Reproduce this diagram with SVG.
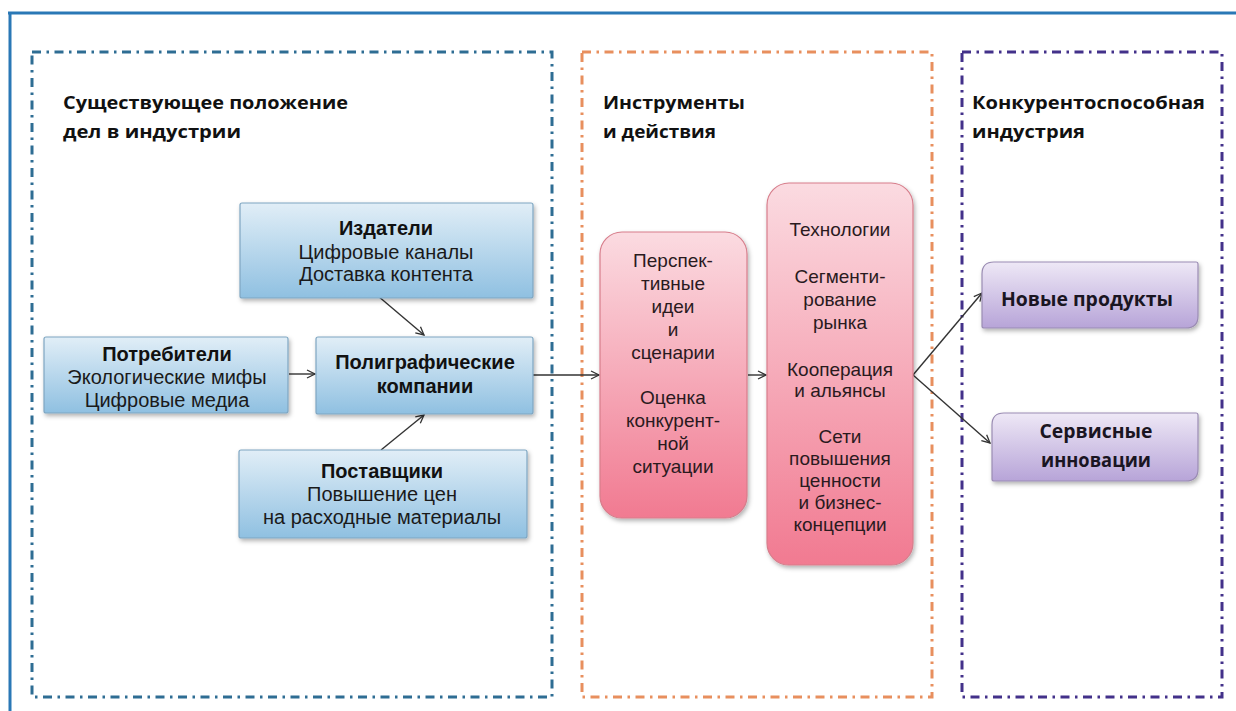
<svg xmlns="http://www.w3.org/2000/svg" width="1236" height="711" viewBox="0 0 1236 711">
  <style>
    .title { font-family: "Open Sans", "Liberation Sans", sans-serif; font-weight: 700; font-size: 18px; fill: #111; }
    .bt { font-family: "Liberation Sans", Arial, sans-serif; font-size: 20px; fill: #1a1a1a; text-anchor: middle; }
    .bb { font-family: "Liberation Sans", Arial, sans-serif; font-size: 20px; font-weight: 700; fill: #111; text-anchor: middle; }
    .pt { font-family: "Liberation Sans", Arial, sans-serif; font-size: 19px; fill: #2a1a1e; text-anchor: middle; }
    .vt { font-family: "Open Sans", "Liberation Sans", sans-serif; font-size: 19px; font-weight: 700; fill: #1a1522; text-anchor: middle; }
    .panel { fill: none; stroke-width: 3; stroke-dasharray: 9 5.5 2.5 5.5; }
    .bluebox { fill: url(#gBlue); stroke: #7fa6c2; stroke-width: 1.2; filter: url(#sh); }
    .pinkbox { fill: url(#gPink); stroke: #d77d8b; stroke-width: 1.2; filter: url(#sh); }
    .violetbox { fill: url(#gViolet); stroke: #9a8cb3; stroke-width: 1.2; filter: url(#sh); }
    .conn { stroke: #333; stroke-width: 1.4; fill: none; marker-end: url(#arr); }
  </style>
  <defs>
    <linearGradient id="gBlue" x1="0" y1="0" x2="0" y2="1">
      <stop offset="0" stop-color="#e1eef7"/>
      <stop offset="1" stop-color="#8fc0e1"/>
    </linearGradient>
    <linearGradient id="gPink" x1="0" y1="0" x2="0" y2="1">
      <stop offset="0" stop-color="#fbdbe1"/>
      <stop offset="1" stop-color="#f17a91"/>
    </linearGradient>
    <linearGradient id="gViolet" x1="0" y1="0" x2="0" y2="1">
      <stop offset="0" stop-color="#eee8f6"/>
      <stop offset="1" stop-color="#b7a4d8"/>
    </linearGradient>
    <filter id="sh" x="-10%" y="-10%" width="125%" height="130%">
      <feDropShadow dx="1.5" dy="2.5" stdDeviation="2" flood-color="#000" flood-opacity="0.3"/>
    </filter>
    <marker id="arr" markerWidth="12" markerHeight="12" refX="9" refY="5" orient="auto" markerUnits="userSpaceOnUse">
      <path d="M1,1 L9,5 L1,9" fill="none" stroke="#333" stroke-width="1.3"/>
    </marker>
  </defs>

  <rect x="0" y="0" width="1236" height="711" fill="#ffffff"/>

  <!-- outer frame -->
  <g id="frame">
    <line x1="8" y1="13" x2="1236" y2="13" stroke="#2a78b6" stroke-width="3"/>
    <line x1="10" y1="12" x2="10" y2="711" stroke="#2a78b6" stroke-width="3"/>
  </g>

  <!-- panels -->
  <g id="panel-current">
    <rect class="panel" x="32" y="52" width="520" height="645" stroke="#2e6d93"/>
    <text class="title" x="63" y="109" textLength="285" lengthAdjust="spacingAndGlyphs">Существующее положение</text>
    <text class="title" x="63" y="138" textLength="178" lengthAdjust="spacingAndGlyphs">дел в индустрии</text>
  </g>
  <g id="panel-tools">
    <rect class="panel" x="582" y="52" width="350" height="645" stroke="#e88f5e"/>
    <text class="title" x="603" y="109" textLength="142" lengthAdjust="spacingAndGlyphs">Инструменты</text>
    <text class="title" x="603" y="138" textLength="113" lengthAdjust="spacingAndGlyphs">и действия</text>
  </g>
  <g id="panel-competitive">
    <rect class="panel" x="962" y="52" width="260" height="645" stroke="#43318a"/>
    <text class="title" x="972" y="109" textLength="233" lengthAdjust="spacingAndGlyphs">Конкурентоспособная</text>
    <text class="title" x="972" y="138" textLength="113" lengthAdjust="spacingAndGlyphs">индустрия</text>
  </g>

  <!-- connectors -->
  <g id="connectors">
    <line class="conn" x1="378" y1="296" x2="424" y2="335"/>
    <line class="conn" x1="289" y1="374" x2="315" y2="374"/>
    <line class="conn" x1="381" y1="450" x2="424" y2="415"/>
    <line class="conn" x1="533" y1="375" x2="599" y2="375"/>
    <line class="conn" x1="748" y1="375" x2="766" y2="375"/>
    <line class="conn" x1="913" y1="375" x2="982" y2="293"/>
    <line class="conn" x1="913" y1="375" x2="990" y2="443"/>
  </g>

  <!-- blue nodes -->
  <g id="node-publishers">
    <rect class="bluebox" x="240" y="203" width="293" height="95" rx="2"/>
    <text class="bb" x="386" y="235">Издатели</text>
    <text class="bt" x="386" y="259">Цифровые каналы</text>
    <text class="bt" x="386" y="281">Доставка контента</text>
  </g>
  <g id="node-consumers">
    <rect class="bluebox" x="44" y="337" width="244" height="76" rx="2"/>
    <text class="bb" x="167" y="361">Потребители</text>
    <text class="bt" x="167" y="384">Экологические мифы</text>
    <text class="bt" x="167" y="407">Цифровые медиа</text>
  </g>
  <g id="node-printing">
    <rect class="bluebox" x="316" y="337" width="217" height="77" rx="2"/>
    <text class="bb" x="425" y="369">Полиграфические</text>
    <text class="bb" x="425" y="393">компании</text>
  </g>
  <g id="node-suppliers">
    <rect class="bluebox" x="239" y="450" width="288" height="88" rx="2"/>
    <text class="bb" x="382" y="478">Поставщики</text>
    <text class="bt" x="382" y="501">Повышение цен</text>
    <text class="bt" x="382" y="524">на расходные материалы</text>
  </g>

  <!-- pink nodes -->
  <g id="node-ideas">
    <rect class="pinkbox" x="600" y="232" width="147" height="286" rx="22"/>
    <text class="pt" x="673" y="267">Перспек-</text>
    <text class="pt" x="673" y="290">тивные</text>
    <text class="pt" x="673" y="313">идеи</text>
    <text class="pt" x="673" y="336">и</text>
    <text class="pt" x="673" y="359">сценарии</text>
    <text class="pt" x="673" y="404">Оценка</text>
    <text class="pt" x="673" y="427">конкурент-</text>
    <text class="pt" x="673" y="450">ной</text>
    <text class="pt" x="673" y="473">ситуации</text>
  </g>
  <g id="node-tech">
    <rect class="pinkbox" x="767" y="183" width="146" height="382" rx="22"/>
    <text class="pt" x="840" y="236">Технологии</text>
    <text class="pt" x="840" y="283">Сегменти-</text>
    <text class="pt" x="840" y="306">рование</text>
    <text class="pt" x="840" y="329">рынка</text>
    <text class="pt" x="840" y="376">Кооперация</text>
    <text class="pt" x="840" y="397">и альянсы</text>
    <text class="pt" x="840" y="443">Сети</text>
    <text class="pt" x="840" y="465">повышения</text>
    <text class="pt" x="840" y="487">ценности</text>
    <text class="pt" x="840" y="509">и бизнес-</text>
    <text class="pt" x="840" y="531">концепции</text>
  </g>

  <!-- violet nodes -->
  <g id="node-new-products">
    <path class="violetbox" d="M994,262 H1196 Q1198,262 1198,264 V316 Q1198,328 1186,328 H984 Q982,328 982,326 V274 Q982,262 994,262 Z"/>
    <text class="vt" x="1087" y="306" textLength="172" lengthAdjust="spacingAndGlyphs">Новые продукты</text>
  </g>
  <g id="node-service">
    <path class="violetbox" d="M1004,413 H1196 Q1198,413 1198,415 V469 Q1198,481 1186,481 H994 Q992,481 992,479 V425 Q992,413 1004,413 Z"/>
    <text class="vt" x="1096" y="438" textLength="113" lengthAdjust="spacingAndGlyphs">Сервисные</text>
    <text class="vt" x="1096" y="467" textLength="110" lengthAdjust="spacingAndGlyphs">инновации</text>
  </g>
</svg>
